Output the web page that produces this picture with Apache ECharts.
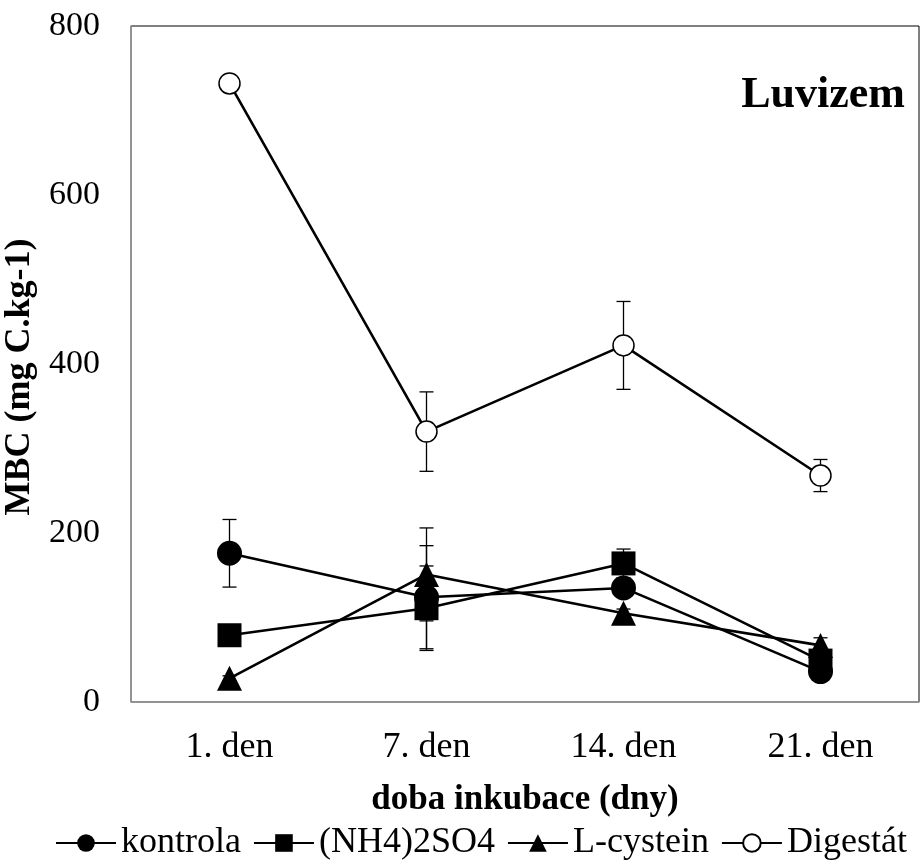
<!DOCTYPE html>
<html>
<head>
<meta charset="utf-8">
<script src="https://cdn.jsdelivr.net/npm/echarts@6/dist/echarts.min.js"></script>
<style>
  html, body { margin: 0; padding: 0; background: #fff; }
  #chart { width: 922px; height: 863px; }
</style>
</head>
<body>
<div id="chart"></div>
<script>
// data
const days = ['1. den', '7. den', '14. den', '21. den']
const kontrola = [176, 124, 135, 36]
const kontrolaErr = [40, 61, 6, 4]
const nh4 = [79, 111, 164, 49]
const nh4Err = [5, 50, 17, 5]
const cystein = [28, 151, 105, 67]
const cysteinErr = [3, 55, 5, 9]
const digestat = [732, 320, 422, 268]
const digestatErr = [4, 47, 52, 19]
const yTicks = [0, 200, 400, 600, 800]

const font = '"Liberation Serif", "Times New Roman", serif'

// error bars as custom series
function errSeries(vals, errs) {
  let d = vals.map(function (v, i) { return [i, v - errs[i], v + errs[i]] })
  return {
    type: 'custom',
    z: 1,
    silent: true,
    data: d,
    renderItem: function (params, api) {
      let lo = api.coord([api.value(0), api.value(1)])
      let hi = api.coord([api.value(0), api.value(2)])
      let w = 7
      let st = { stroke: '#000', lineWidth: 1.3 }
      return {
        type: 'group',
        children: [
          { type: 'line', shape: { x1: hi[0], y1: hi[1], x2: lo[0], y2: lo[1] }, style: st },
          { type: 'line', shape: { x1: hi[0] - w, y1: hi[1], x2: hi[0] + w, y2: hi[1] }, style: st },
          { type: 'line', shape: { x1: lo[0] - w, y1: lo[1], x2: lo[0] + w, y2: lo[1] }, style: st }
        ]
      }
    }
  }
}

function lineSeries(name, vals, symbol, size, fill) {
  return {
    name: name,
    type: 'line',
    z: 3,
    data: vals,
    symbol: symbol,
    symbolSize: size,
    showAllSymbol: true,
    lineStyle: { color: '#000', width: 2.6 },
    itemStyle: { color: fill, borderColor: '#000', borderWidth: fill == '#fff' ? 1.5 : 0 },
    emphasis: { disabled: true }
  }
}

const chart = echarts.init(document.getElementById('chart'), null, { renderer: 'canvas' })

let option = {
  animation: false,
  textStyle: { fontFamily: font, color: '#000' },
  grid: {
    left: 131, right: 3, top: 26, bottom: 161,
    outerBoundsMode: 'none',
    containLabel: false,
    show: true, borderColor: '#000', borderWidth: 1
  },
  title: {
    text: 'Luvizem',
    right: 12, top: 69,
    textStyle: { fontFamily: font, fontWeight: 'bold', fontSize: 44, color: '#000' }
  },
  legend: {
    bottom: -3,
    left: 50,
    itemWidth: 60,
    itemHeight: 22,
    itemGap: 12,
    textStyle: { fontFamily: font, fontSize: 36, color: '#000' },
    data: ['kontrola', '(NH4)2SO4', 'L-cystein', 'Digestát']
  },
  xAxis: {
    type: 'category',
    data: days,
    boundaryGap: true,
    axisLine: { lineStyle: { color: '#999', width: 1.5 } },
    axisTick: { show: false },
    axisLabel: { fontFamily: font, fontSize: 36, color: '#000', margin: 28 },
    name: 'doba inkubace (dny)',
    nameLocation: 'middle',
    nameGap: 80,
    nameTextStyle: { fontFamily: font, fontSize: 35, fontWeight: 'bold', color: '#000' }
  },
  yAxis: {
    type: 'value',
    min: yTicks[0],
    max: yTicks[yTicks.length - 1],
    interval: 200,
    axisLine: { show: true, lineStyle: { color: '#999', width: 1.5 } },
    axisTick: { show: false },
    splitLine: { show: false },
    axisLabel: { fontFamily: font, fontSize: 34, color: '#000', margin: 31 },
    name: 'MBC (mg C.kg-1)',
    nameLocation: 'middle',
    nameGap: 84,
    nameTextStyle: { fontFamily: font, fontSize: 36, fontWeight: 'bold', color: '#000', padding: [0, 26, 0, 0] }
  },
  series: [
    errSeries(kontrola, kontrolaErr),
    errSeries(nh4, nh4Err),
    errSeries(cystein, cysteinErr),
    errSeries(digestat, digestatErr),
    lineSeries('kontrola', kontrola, 'circle', 25, '#000'),
    lineSeries('(NH4)2SO4', nh4, 'rect', 24, '#000'),
    lineSeries('L-cystein', cystein, 'triangle', 25, '#000'),
    lineSeries('Digestát', digestat, 'circle', 21, '#fff')
  ]
}
chart.setOption(option)
</script>
</body>
</html>
